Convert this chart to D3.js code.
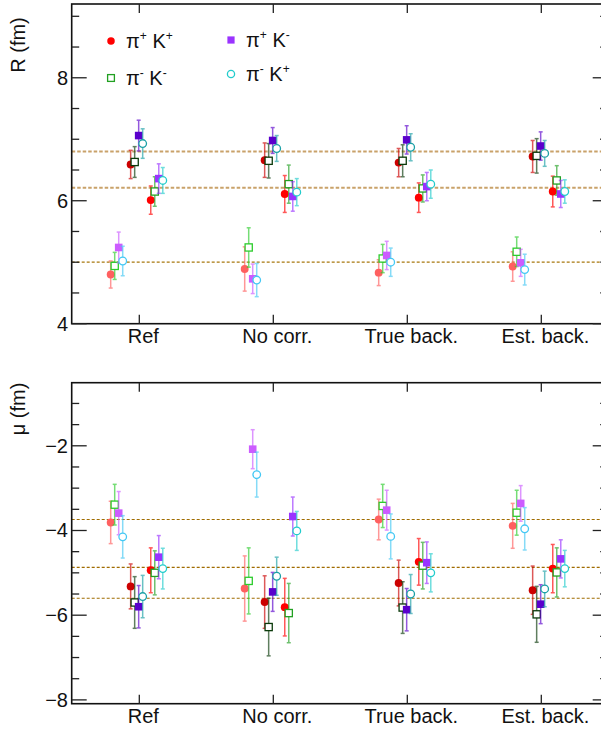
<!DOCTYPE html>
<html>
<head>
<meta charset="utf-8">
<script src="https://cdn.jsdelivr.net/npm/d3@7"></script>
<style>
  body { margin: 0; background: #fff; }
  svg { display: block; font-family: "Liberation Sans", Arial, Helvetica, sans-serif; }
</style>
</head>
<body>
<svg id="chart" width="601" height="729"></svg>
<script>
// categories on the x axis
var categories = ["Ref", "No corr.", "True back.", "Est. back."];

// species order: pi+K+, pi-K-, pi+K-, pi-K+
var species = ["π+K+", "π-K-", "π+K-", "π-K+"];

// R (fm), [species][category], three groups of source settings
var R_A     = [[4.80, 4.89, 4.83, 4.93], [4.94, 5.24, 5.06, 5.17], [5.24, 4.73, 5.11, 4.99], [5.02, 4.71, 5.00, 4.88]];
var R_A_err = [[0.22, 0.36, 0.21, 0.24], [0.22, 0.32, 0.23, 0.24], [0.25, 0.24, 0.23, 0.22], [0.24, 0.27, 0.23, 0.25]];
var R_B     = [[6.59, 6.66, 6.62, 6.72], [6.63, 6.65, 6.65, 6.73], [7.06, 6.98, 6.99, 6.89], [6.93, 6.85, 6.87, 6.77]];
var R_B_err = [[0.23, 0.28, 0.23, 0.26], [0.25, 0.28, 0.26, 0.28], [0.25, 0.21, 0.23, 0.23], [0.24, 0.21, 0.22, 0.21]];
var R_C     = [[6.01, 6.11, 6.05, 6.15], [6.15, 6.27, 6.20, 6.33], [6.36, 6.07, 6.23, 6.11], [6.33, 6.14, 6.27, 6.15]];
var R_C_err = [[0.23, 0.30, 0.24, 0.25], [0.24, 0.31, 0.22, 0.24], [0.24, 0.24, 0.23, 0.22], [0.21, 0.22, 0.23, 0.19]];

// mu (fm)
var mu_A     = [[-3.81, -5.37, -3.74, -3.89], [-3.39, -5.19, -3.42, -3.58], [-3.59, -2.08, -3.52, -3.36], [-4.15, -2.68, -4.14, -3.96]];
var mu_A_err = [[0.50, 0.77, 0.48, 0.53], [0.48, 0.78, 0.51, 0.53], [0.51, 0.46, 0.47, 0.42], [0.50, 0.53, 0.53, 0.50]];
var mu_B     = [[-5.32, -5.69, -5.24, -5.41], [-5.70, -6.28, -5.82, -5.98], [-5.80, -5.45, -5.87, -5.74], [-5.56, -5.08, -5.50, -5.38]];
var mu_B_err = [[0.53, 0.62, 0.54, 0.57], [0.61, 0.68, 0.61, 0.66], [0.50, 0.46, 0.50, 0.46], [0.50, 0.45, 0.46, 0.42]];
var mu_C     = [[-4.94, -5.81, -4.74, -4.90], [-5.00, -5.95, -4.83, -4.99], [-4.63, -3.67, -4.76, -4.67], [-4.90, -4.01, -5.00, -4.90]];
var mu_C_err = [[0.53, 0.68, 0.55, 0.57], [0.52, 0.70, 0.55, 0.58], [0.51, 0.46, 0.49, 0.45], [0.48, 0.46, 0.45, 0.43]];

// input (true) values, dashed lines
var R_true  = [6.80, 6.21, 5.00];
var mu_true = [-3.74, -4.87, -5.60];

// ---- styling ----
// colours per group (A light, B dark, C medium) and species
var colors = [
  ["#ff6060", "#2ccc2c", "#cc5cff", "#44c8f4"],
  ["#cc0000", "#0b3a0b", "#5a00cc", "#1aa0a6"],
  ["#ff0000", "#22a022", "#9a33ff", "#22cccc"]
];
var legendColors = ["#ff0000", "#22a022", "#9a33ff", "#22cccc"];
var filled = [true, false, true, false];
var shape  = ["circle", "square", "square", "circle"];
var groupShift = [-0.209, -0.060, 0.090];   // in bin units
var speciesStep = 0.0299;

var svg = d3.select("#chart");
var x = d3.scaleLinear().domain([0, 4]).range([71.7, 607.7]);

function drawMarker(g, cx, cy, sp, col, sz) {
  if (shape[sp] === "circle") {
    g.append("circle").attr("cx", cx).attr("cy", cy).attr("r", filled[sp] ? sz * 0.52 : sz * 0.5)
      .attr("fill", filled[sp] ? col : "#fff")
      .attr("stroke", col).attr("stroke-width", filled[sp] ? 0 : 1.3);
  } else {
    var h = filled[sp] ? sz / 2 : sz / 2 - 0.2;
    g.append("rect").attr("x", cx - h).attr("y", cy - h).attr("width", 2 * h).attr("height", 2 * h)
      .attr("fill", filled[sp] ? col : "#fff")
      .attr("stroke", col).attr("stroke-width", filled[sp] ? 0 : 1.3);
  }
}

function panel(opt) {
  var y = d3.scaleLinear().domain(opt.domain).range([opt.bottom, opt.top]);
  var g = svg.append("g");
  var left = x.range()[0], right = x.range()[1];

  // dashed lines for true values
  opt.lines.forEach(function(v, i) {
    g.append("line").attr("x1", left).attr("x2", right).attr("y1", y(v)).attr("y2", y(v))
      .attr("stroke", opt.lineColors[i]).attr("stroke-width", opt.lineWidths[i])
      .attr("stroke-dasharray", opt.lineDash[i]);
  });

  // data
  opt.groups.forEach(function(grp, gi) {
    for (var sp = 0; sp < 4; sp++) {
      categories.forEach(function(c, ci) {
        var cx = x(ci + 0.5 + groupShift[gi] + speciesStep * sp);
        var v = grp.val[sp][ci], e = grp.err[sp][ci];
        var col = colors[gi][sp];
        var eg = g.append("g").attr("stroke", col).attr("stroke-width", 1.5).attr("opacity", 0.65);
        eg.append("line").attr("x1", cx).attr("x2", cx).attr("y1", y(v + e)).attr("y2", y(v - e));
        eg.append("line").attr("x1", cx - 2).attr("x2", cx + 2).attr("y1", y(v + e)).attr("y2", y(v + e));
        eg.append("line").attr("x1", cx - 2).attr("x2", cx + 2).attr("y1", y(v - e)).attr("y2", y(v - e));
        drawMarker(g, cx, y(v), sp, col, 7.6);
      });
    }
  });

  // frame
  g.append("rect").attr("x", left).attr("y", opt.top).attr("width", right - left).attr("height", opt.bottom - opt.top)
    .attr("fill", "none").attr("stroke", "#111").attr("stroke-width", 1.6);

  // y ticks (left and right)
  var minor = d3.range(Math.ceil(opt.domain[0] * 2) / 2, opt.domain[1] + 1e-9, 0.5);
  minor.forEach(function(v) {
    var major = Math.abs(v / 2 - Math.round(v / 2)) < 1e-6;
    var len = major ? 15 : 7.5;
    g.append("line").attr("x1", left).attr("x2", left + len).attr("y1", y(v)).attr("y2", y(v))
      .attr("stroke", "#222").attr("stroke-width", 1.3);
    g.append("line").attr("x1", right).attr("x2", right - len).attr("y1", y(v)).attr("y2", y(v))
      .attr("stroke", "#222").attr("stroke-width", 1.3);
    if (major) {
      g.append("text").attr("x", 68).attr("y", y(v) + 7).attr("text-anchor", "end")
        .attr("font-size", 20).attr("fill", "#111")
        .text(v < 0 ? "\u2212" + Math.abs(v) : v);
    }
  });

  // x ticks and labels
  categories.forEach(function(c, ci) {
    var cx = x(ci + 0.5) + 0.6;
    g.append("line").attr("x1", cx).attr("x2", cx).attr("y1", opt.bottom).attr("y2", opt.bottom - 9)
      .attr("stroke", "#222").attr("stroke-width", 1.3);
    g.append("line").attr("x1", cx).attr("x2", cx).attr("y1", opt.top).attr("y2", opt.top + 9)
      .attr("stroke", "#222").attr("stroke-width", 1.3);
    g.append("text").attr("x", cx + 4).attr("y", opt.bottom + 19).attr("text-anchor", "middle")
      .attr("font-size", 20).attr("fill", "#111").text(c);
  });

  // y title
  g.append("text").attr("transform", "translate(25," + opt.titleY + ") rotate(-90)")
    .attr("text-anchor", "middle").attr("font-size", 20).attr("fill", "#111").text(opt.title);
}

panel({
  domain: [4, 9.2], top: 4, bottom: 323.7,
  lines: R_true,
  lineColors: ["#c9a26a", "#c9a26a", "#a8780f"],
  lineWidths: [2, 2, 1.3],
  lineDash: ["3.5,2", "3.5,2", "3,2"],
  groups: [{val: R_A, err: R_A_err}, {val: R_B, err: R_B_err}, {val: R_C, err: R_C_err}],
  title: "R (fm)", titleY: 45
});

panel({
  domain: [-8.09, -0.51], top: 382.7, bottom: 703.7,
  lines: mu_true,
  lineColors: ["#a06c00", "#a06c00", "#a06c00"],
  lineWidths: [1.2, 1.2, 1.2],
  lineDash: ["3,2", "3,2", "3,2"],
  groups: [{val: mu_A, err: mu_A_err}, {val: mu_B, err: mu_B_err}, {val: mu_C, err: mu_C_err}],
  title: "\u03bc (fm)", titleY: 409
});

// legend
var legend = [
  {sp: 0, x: 111, y: 41, a: "+", b: "+"},
  {sp: 1, x: 111, y: 78, a: "-", b: "-"},
  {sp: 2, x: 231, y: 40, a: "+", b: "-"},
  {sp: 3, x: 231, y: 74, a: "-", b: "+"}
];
var lg = svg.append("g");
legend.forEach(function(d) {
  drawMarker(lg, d.x, d.y, d.sp, legendColors[d.sp], 7.2);
  var t = lg.append("text").attr("x", d.x + 15).attr("y", d.y + 7).attr("font-size", 20).attr("fill", "#111");
  t.append("tspan").text("\u03c0");
  t.append("tspan").attr("font-size", 12).attr("dy", -8).text(d.a);
  t.append("tspan").attr("dy", 8).text(" K");
  t.append("tspan").attr("font-size", 12).attr("dy", -8).text(d.b);
});
</script>
</body>
</html>
